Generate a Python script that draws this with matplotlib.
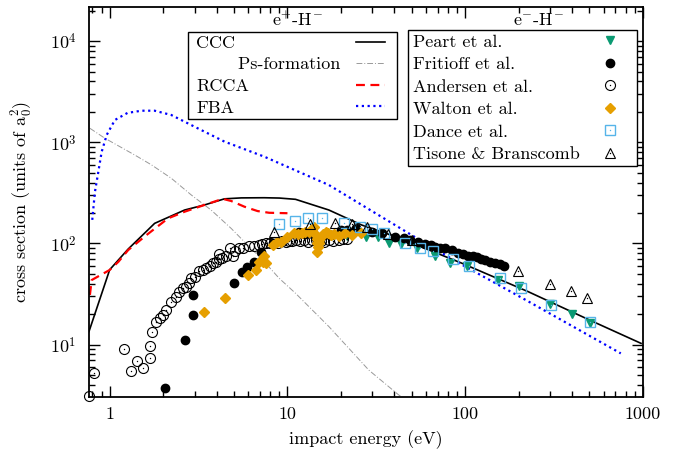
import numpy as np
import matplotlib
matplotlib.use("Agg")
import matplotlib.pyplot as plt
from matplotlib.lines import Line2D
from matplotlib.legend_handler import HandlerTuple
from matplotlib.ticker import FixedLocator, FixedFormatter, LogLocator, NullFormatter

plt.rcParams['font.family'] = 'serif'
plt.rcParams['font.serif'] = ['cmr10']
plt.rcParams['mathtext.fontset'] = 'cm'
plt.rcParams['axes.unicode_minus'] = False
plt.rcParams['axes.formatter.use_mathtext'] = True

# ---------------- theory curves (e+ - H-) ----------------
ccc_E = [0.765, 1.0, 1.27, 1.64, 1.79, 2.64, 3.41, 4.42, 5.5, 7.4, 9.0, 11.1, 17.1, 26.2, 40.5, 95.3, 226, 299, 501, 975]
ccc_s = [13.5, 55, 88, 136, 158, 214, 240, 276, 282, 283, 281, 273, 214, 152, 117, 64, 33.4, 26.6, 17.5, 10.3]

ps_E = [0.774, 0.94, 1.38, 1.72, 2.22, 2.88, 3.72, 4.82, 5.72, 7.25, 8.98, 11.1, 17.1, 28.7, 42.2, 46.0]
ps_s = [1374, 1095, 750, 597, 441, 301, 214, 141, 104, 68.7, 45.3, 32.2, 15.1, 5.6, 3.19, 2.9]

rcca_E = [0.774, 0.792, 1.0, 1.12, 1.27, 1.61, 2.13, 2.64, 3.41, 4.32, 4.82, 5.72, 6.79, 7.89, 10.0]
rcca_s = [31, 43.5, 54.7, 66, 86, 121, 177, 206, 240, 276, 263, 231, 209, 201, 199]

fba_E = [0.798, 0.826, 0.863, 0.901, 0.962, 1.07, 1.26, 1.51, 1.79, 2.22, 3.0, 4.42, 7.4, 17.1, 52.4, 95.3, 226, 750]
fba_s = [171, 323, 509, 802, 1180, 1660, 1950, 2050, 2050, 1860, 1425, 1015, 721, 378, 115, 62, 26.8, 8.2]

# ---------------- experiments (e- - H-) ----------------
pea_E = [21.7, 27.5, 32.2, 37.2, 43.4, 53.3, 67.8, 82.2, 102.6, 152, 200, 301, 397, 501]
pea_s = [118.6, 117, 115, 100.5, 97.7, 89.7, 75.2, 63.7, 60, 44, 38, 25.2, 20, 16.4]

fri_E = [2.04, 2.65, 2.94, 2.94, 5.01, 5.58, 5.94, 6.51, 7.10, 8.24, 11.6, 12.5, 14.0, 16.0, 17.5, 19.9, 21.5,
         24.2, 29.9, 34.1, 40.5, 45, 49.1, 54, 59.6, 64, 67.8, 72, 77.1, 84, 91.5, 97, 104, 110, 116, 122,
         129, 138, 147, 156, 166]
fri_s = [3.71, 11.06, 19.7, 31, 40.8, 52.2, 58, 66.1, 83, 100.5, 131, 125, 128, 122, 120, 136, 135,
         141, 131, 126, 116, 112, 108, 104, 98.9, 96, 93, 91, 89.7, 86.3, 80.5, 78, 76, 74.5, 72.7, 70.5,
         68.7, 66, 63.7, 62, 60]

and_E = [0.765, 0.816, 1.20, 1.31, 1.43, 1.54, 1.68, 1.68, 1.73, 1.83, 1.91, 1.99, 2.08, 2.22, 2.37, 2.45,
         2.58, 2.70, 2.80, 2.88, 3.0, 3.20, 3.35, 3.49, 3.65, 3.80, 3.95, 4.14, 4.14, 4.3, 4.52, 4.73, 4.92,
         5.1, 5.36, 5.6, 6.1, 6.5, 6.94, 7.2, 7.57, 8.0, 8.43, 8.8, 9.34, 9.8, 10.2, 10.6, 11.1, 11.7, 12.4,
         13.0, 13.8, 14.5, 15.5, 16.0, 17.1, 18.0, 19.5, 20.5, 21.5]
and_s = [3.13, 5.2, 9.07, 5.53, 6.9, 5.93, 7.45, 9.6, 13.4, 16.7, 18.2, 19.7, 22, 26.4, 29.8, 33,
         36.1, 37.4, 41, 45.3, 47, 53.5, 55, 57.3, 60, 63.7, 66, 69.8, 78.8, 72, 74.5, 89.7, 76,
         85, 89.7, 90, 93.4, 95, 96.6, 98, 101, 100, 103, 101, 106, 103, 105, 105, 108, 106, 107,
         104, 108, 108, 106, 104, 107, 106, 108, 110, 111]

wal_E = [3.41, 4.45, 5.97, 6.65, 6.94, 7.24, 7.40, 7.57, 8.24, 8.79, 9.19, 10.0, 10.9, 11.5, 12.1, 12.6, 13.2,
         13.6, 14.1, 14.4, 14.6, 14.7, 14.7, 14.8, 15.0, 15.1, 15.4, 15.8, 16.4, 16.8, 17.5, 18.2, 19.5, 21.2,
         23.1, 25.8]
wal_s = [20.9, 28.9, 48.3, 54.7, 66.1, 66, 76, 64.6, 96.6, 104, 104, 117, 126, 124, 128, 130, 131,
         135, 147, 121, 110, 100.4, 83, 92, 102, 108, 117, 125, 131, 128, 121, 125, 119, 126,
         120, 128]

dan_E = [8.95, 11.0, 13.0, 15.6, 20.8, 25.5, 29.8, 35.1, 45.6, 55.8, 65.5, 85.9, 105, 156, 205, 304, 504]
dan_s = [157, 168, 177, 177, 158, 147, 138, 127, 100, 90.7, 84, 69.8, 60, 45.6, 36.5, 24.4, 16.6]

tis_E = [8.39, 13.4, 18.5, 23.2, 28.1, 36.8, 50, 199, 298, 395, 485]
tis_s = [131, 157, 161, 155, 144, 124, 109, 53.1, 39.6, 34, 28.6]

x_ticks = [1, 10, 100, 1000]
x_ticklabels = ['1', '10', '100', '1000']
y_ticks = [10, 100, 1000, 10000]
y_ticklabels = ['$10^{1}$', '$10^{2}$', '$10^{3}$', '$10^{4}$']

left_labels = ['CCC', '       Ps-formation', 'RCCA', 'FBA']
right_labels = ['Peart et al.', 'Fritioff et al.', 'Andersen et al.', 'Walton et al.',
                'Dance et al.', 'Tisone & Branscomb']

GREEN = '#0a9a72'
ORANGE = '#e69f00'
SKY = '#56b4e9'
FS = 13

fig = plt.figure(figsize=(6.79, 4.59), dpi=100)
ax = fig.add_axes([89/679, 62/459, 554/679, 390/459])
ax.set_xscale('log')
ax.set_yscale('log')

l_ccc, = ax.plot(ccc_E, ccc_s, color='black', lw=1.2)
l_ps, = ax.plot(ps_E, ps_s, color='#999999', lw=0.7, ls=(0, (6, 2, 1, 2)))
l_rcca, = ax.plot(rcca_E, rcca_s, color='#ff0000', lw=1.6, ls=(0, (4, 2.5)))
l_fba, = ax.plot(fba_E, fba_s, color='#0000ff', lw=1.6, ls=(0, (1, 1.6)))

m_pea, = ax.plot(pea_E, pea_s, ls='none', marker='v', ms=6, color=GREEN, mec=GREEN, clip_on=False)
m_fri, = ax.plot(fri_E, fri_s, ls='none', marker='o', ms=6, color='black', clip_on=False)
m_and, = ax.plot(and_E, and_s, ls='none', marker='o', ms=7.2, mfc='none', mec='black', mew=0.8, clip_on=False)
d_and, = ax.plot(and_E, and_s, ls='none', marker='o', ms=1.0, color='black', mew=0, clip_on=False)
m_wal, = ax.plot(wal_E, wal_s, ls='none', marker='D', ms=4.6, color=ORANGE, mec=ORANGE, clip_on=False)
m_dan, = ax.plot(dan_E, dan_s, ls='none', marker='s', ms=6.8, mfc='none', mec=SKY, mew=1.0, clip_on=False)
d_dan, = ax.plot(dan_E, dan_s, ls='none', marker='o', ms=1.0, color=SKY, mew=0, clip_on=False)
m_tis, = ax.plot(tis_E, tis_s, ls='none', marker='^', ms=6.5, mfc='none', mec='black', mew=0.8, clip_on=False)
d_tis, = ax.plot(tis_E, tis_s, ls='none', marker='o', ms=1.0, color='black', mew=0, clip_on=False)

ax.set_xlim(0.765, 1000)
ax.set_ylim(3.04, 21700)

ax.xaxis.set_major_locator(FixedLocator(x_ticks))
ax.xaxis.set_major_formatter(FixedFormatter(x_ticklabels))
ax.yaxis.set_major_locator(FixedLocator(y_ticks))
ax.yaxis.set_major_formatter(FixedFormatter(y_ticklabels))
ax.xaxis.set_minor_locator(LogLocator(base=10, subs=np.arange(2, 10), numticks=20))
ax.yaxis.set_minor_locator(LogLocator(base=10, subs=np.arange(2, 10), numticks=20))
ax.xaxis.set_minor_formatter(NullFormatter())
ax.yaxis.set_minor_formatter(NullFormatter())
ax.tick_params(which='both', direction='in', top=True, right=True, width=1.0, labelsize=FS)
ax.tick_params(which='major', length=8)
ax.tick_params(which='minor', length=4)
ax.tick_params(axis='x', pad=7)
ax.tick_params(axis='y', pad=9)
for sp in ax.spines.values():
    sp.set_linewidth(1.3)

ax.set_xlabel('impact energy (eV)', fontsize=FS)
ax.set_ylabel(r'cross section (units of $\mathrm{a}_0^2$)', fontsize=FS)
ax.xaxis.set_label_coords(0.5, -0.085)
ax.yaxis.set_label_coords(-0.097, 0.5)

left_common = dict(fontsize=FS, labelspacing=0.33, borderpad=0.18, borderaxespad=0)
right_common = dict(fontsize=FS, labelspacing=0.38, borderpad=0.22, borderaxespad=0)

# left legend (e+ - H-)
blank_l = [Line2D([], [], ls='none') for _ in left_labels]
legA = ax.legend(blank_l, left_labels, loc='upper left',
                 bbox_to_anchor=(0.1787, 0.5, 0.556 - 0.1787, 0.9359 - 0.5), mode='expand',
                 handlelength=0, handletextpad=0.28, frameon=True, fancybox=False,
                 edgecolor='black', framealpha=1, **left_common)
legA.get_frame().set_linewidth(1.0)
ax.add_artist(legA)
legB = ax.legend([l_ccc, l_ps, l_rcca, l_fba], [' '] * 4, loc='upper right',
                 bbox_to_anchor=(0.5406, 0.9359), markerfirst=False, frameon=False,
                 handlelength=1.62, handletextpad=0, **left_common)
ax.add_artist(legB)

# right legend (e- - H-)
blank_r = [Line2D([], [], ls='none') for _ in right_labels]
legC = ax.legend(blank_r, right_labels, loc='upper left',
                 bbox_to_anchor=(0.5758, 0.5, 0.9892 - 0.5758, 0.941 - 0.5), mode='expand',
                 handlelength=0, handletextpad=0.08, frameon=True, fancybox=False,
                 edgecolor='black', framealpha=1, **right_common)
legC.get_frame().set_linewidth(1.0)
ax.add_artist(legC)
legD = ax.legend([m_pea, m_fri, (m_and, d_and), m_wal, (m_dan, d_dan), (m_tis, d_tis)], [' '] * 6,
                 loc='upper right', bbox_to_anchor=(0.964, 0.941), markerfirst=False, frameon=False,
                 handlelength=1.0, handletextpad=0, numpoints=1,
                 handler_map={tuple: HandlerTuple(ndivide=1)}, **right_common)

ax.text(0.3755, 0.9667, r'e$^{+}$-H$^{-}$', transform=ax.transAxes, ha='center', va='center', fontsize=FS)
ax.text(0.8105, 0.9667, r'e$^{-}$-H$^{-}$', transform=ax.transAxes, ha='center', va='center', fontsize=FS)

fig.savefig('out.png', dpi=100)
